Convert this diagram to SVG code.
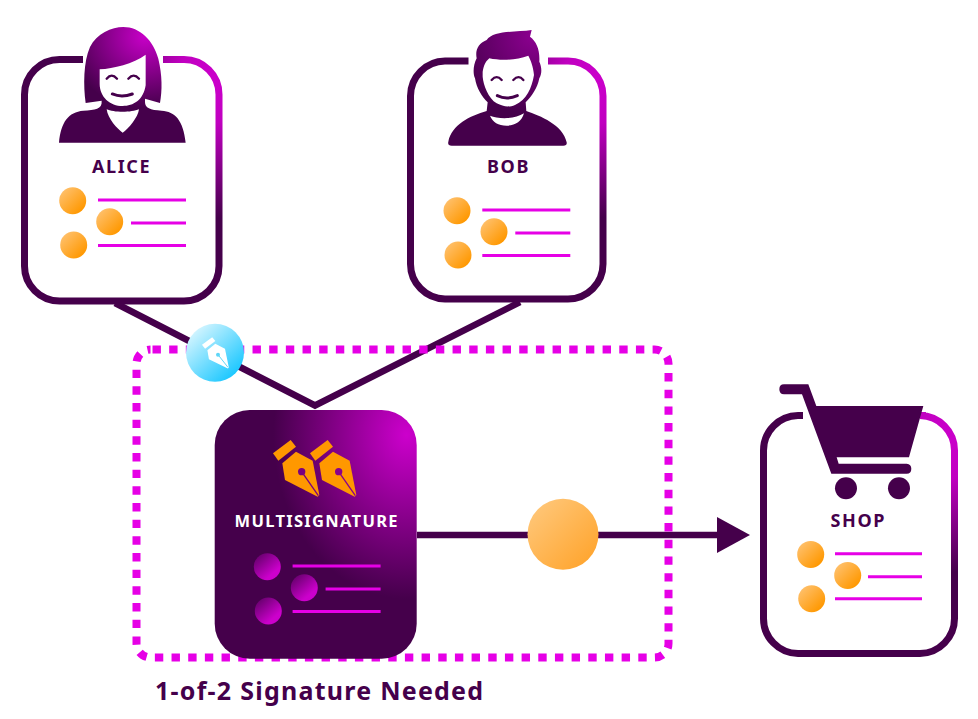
<svg xmlns="http://www.w3.org/2000/svg" xmlns:xlink="http://www.w3.org/1999/xlink" width="978" height="719" viewBox="0 0 978 719">
<style>
.card{fill:none;stroke:url(#cardGrad);stroke-width:7}
.lbl{font-family:"Noto Sans","Open Sans",sans-serif;font-weight:700;font-size:18px;letter-spacing:1.600px;fill:#45004b;text-anchor:middle}
.ln{stroke:#e600e6;stroke-width:3;fill:none}
.ink{fill:#45004b}
.wht{fill:#fff}
.face{fill:none;stroke:#45004b;stroke-linecap:round}
.con{fill:none;stroke:#45004b;stroke-width:6.500}
</style>
<defs>
<radialGradient id="cardGrad" cx="0.95" cy="0.1" r="0.56"><stop offset="0" stop-color="#cc00cc"/><stop offset="0.3" stop-color="#c000c0"/><stop offset="1" stop-color="#45004b"/></radialGradient>
<radialGradient id="figA" cx="0.68" cy="0.08" r="0.62"><stop offset="0" stop-color="#c800c8"/><stop offset="1" stop-color="#45004b"/></radialGradient>
<radialGradient id="figB" cx="0.72" cy="0.05" r="0.68"><stop offset="0" stop-color="#8c0090"/><stop offset="1" stop-color="#45004b"/></radialGradient>
<radialGradient id="msGrad" cx="0.95" cy="0.1" r="0.66"><stop offset="0" stop-color="#cc00cc"/><stop offset="1" stop-color="#45004b"/></radialGradient>
<linearGradient id="org" x1="0.15" y1="0.15" x2="0.85" y2="0.85"><stop offset="0" stop-color="#ffbe66"/><stop offset="1" stop-color="#ff9800"/></linearGradient>
<linearGradient id="org2" x1="0.15" y1="0.15" x2="0.85" y2="0.85"><stop offset="0" stop-color="#ffc473"/><stop offset="1" stop-color="#ffa733"/></linearGradient>
<linearGradient id="pur" x1="0.15" y1="0.1" x2="0.7" y2="0.75"><stop offset="0" stop-color="#6a0070"/><stop offset="1" stop-color="#cc00cc"/></linearGradient>
<linearGradient id="blu" x1="0.15" y1="0.1" x2="0.85" y2="0.85"><stop offset="0" stop-color="#d4f5ff"/><stop offset="1" stop-color="#1ec8ff"/></linearGradient>
<g id="lines">
<path class="ln" d="M98 200H186M131 223H186M98 245.500H186"/>
</g>
<g id="nib">
<path d="M24 70L77 30L93 50L40 92Z"/>
<path d="M52 100L93 65L143 92L163 195L158 200L60 150Z"/>
</g>
</defs>

<g id="connectors">
<path class="con" d="M115 303L315 405.500L520 302"/>
<path class="con" d="M417 535H720"/>
<path d="M717 517L750 535L717 553Z" class="ink"/>
</g>

<rect id="group-box" x="136.500" y="349.500" width="532" height="308" rx="14" fill="none" stroke="#e600e6" stroke-width="8" stroke-dasharray="8.400 8.270" stroke-dashoffset="-2"/>

<g id="alice">
<path class="card" d="M83 59.500H59.500A35 35 0 0 0 24.500 94.500V266A35 35 0 0 0 59.500 301H184A35 35 0 0 0 219 266V94.500A35 35 0 0 0 184 59.500H163"/>
<g transform="translate(55 22) scale(.3333)">
<path fill="url(#figA)" d="M92 243C85 190 85 120 105 75C125 35 170 15 205 15C255 15 295 55 310 110C322 160 322 205 315 243L270 230V240C270 258 285 264 320 266C360 268 385 295 392 362H12C18 300 40 270 85 266C120 264 142 262 140 236Z"/>
<path class="wht" d="M134 142C175 140 235 125 272 98V190C265 235 235 252 203 252C165 252 134 225 134 185Z"/>
<path class="wht" d="M155 262C175 272 230 272 252 262C250 285 220 322 203 332C188 322 158 290 155 262Z"/>
<path class="face" stroke-width="7" d="M155 170Q170 152 186 170M220 170Q236 152 252 170"/>
<path class="face" stroke-width="9" d="M172 216Q200 228 232 216"/>
</g>
<text class="lbl" x="121.500" y="172.700">ALICE</text>
<circle cx="72.700" cy="200.700" r="13.500" fill="url(#org)"/>
<circle cx="109.700" cy="221.700" r="13.500" fill="url(#org)"/>
<circle cx="73.700" cy="245" r="13.500" fill="url(#org)"/>
<use xlink:href="#lines" href="#lines"/>
</g>

<g id="bob">
<path class="card" d="M468.500 61H445A35 35 0 0 0 410.500 96V264A35 35 0 0 0 445 299H568A35 35 0 0 0 603 264V96A35 35 0 0 0 568 61H548"/>
<g transform="translate(440 25) scale(.3333)">
<path fill="url(#figB)" d="M275 15L270 35C290 50 300 75 298 110C305 125 307 145 298 160C292 190 275 215 257 232L259 258C300 272 370 300 380 352Q382 362 370 362H35Q22 362 25 350C35 300 90 272 140 258L143 232C125 215 110 190 105 160C98 145 100 120 110 100C105 75 115 55 140 45C160 15 230 22 275 15Z"/>
<path class="wht" d="M128 140C132 120 135 112 148 100C185 108 230 105 265 92C272 105 280 125 282 150C275 190 260 225 225 240C205 248 190 245 170 235C145 220 130 180 128 155Z"/>
<path class="wht" d="M150 272C175 283 225 283 252 265C245 290 225 302 200 302C175 302 158 292 150 272Z"/>
<path class="face" stroke-width="7" d="M155 165Q170 148 185 165M220 165Q236 148 250 165"/>
<path class="face" stroke-width="9" d="M172 212Q200 226 232 212"/>
</g>
<text class="lbl" x="508.500" y="172.700">BOB</text>
<g transform="translate(384.300 10)">
<circle cx="72.700" cy="200.700" r="13.500" fill="url(#org)"/>
<circle cx="109.700" cy="221.700" r="13.500" fill="url(#org)"/>
<circle cx="73.700" cy="245" r="13.500" fill="url(#org)"/>
<use xlink:href="#lines" href="#lines"/>
</g>
</g>

<g id="multisignature">
<rect x="214.700" y="410" width="202" height="248.700" rx="35" fill="url(#msGrad)"/>
<g transform="translate(265 430) scale(.3333)" fill="#ff9800">
<use xlink:href="#nib" href="#nib"/>
<path d="M110 125L160 197" stroke="#7a0080" stroke-width="4"/>
<circle cx="110" cy="125" r="11" fill="#7a0080"/>
<use xlink:href="#nib" href="#nib" x="111"/>
<path d="M221 125L271 197" stroke="#8a008c" stroke-width="4"/>
<circle cx="221" cy="125" r="11" fill="#8a008c"/>
</g>
<text class="lbl" x="316.700" y="526.700" style="fill:#fff;font-size:16.500px;letter-spacing:1.300px">MULTISIGNATURE</text>
<g transform="translate(194.600 366)">
<circle cx="72.700" cy="200.700" r="13.500" fill="url(#pur)"/>
<circle cx="109.700" cy="221.700" r="13.500" fill="url(#pur)"/>
<circle cx="73.700" cy="245" r="13.500" fill="url(#pur)"/>
<use xlink:href="#lines" href="#lines"/>
</g>
</g>

<g id="signature-token">
<circle cx="215" cy="352.700" r="29" fill="url(#blu)"/>
<g transform="translate(180 320) scale(.3333)">
<g transform="translate(52 35.500) scale(.58 .55)" fill="#fff">
<use xlink:href="#nib" href="#nib"/>
</g>
<circle cx="114" cy="104" r="6" fill="#5fd6f7"/>
<path d="M114 104L144 142" stroke="#5fd6f7" stroke-width="3"/>
</g>
</g>

<circle id="coin" cx="563" cy="534.300" r="35.500" fill="url(#org2)"/>

<g id="shop">
<path class="card" d="M803 415.500H798A35 35 0 0 0 763.500 450.500V618A35 35 0 0 0 798 653.500H920A35 35 0 0 0 954.500 618V450.500A35 35 0 0 0 920 415.500H926"/>
<g transform="translate(740 370) scale(.3333)" class="ink">
<path d="M132 43H205L229 108H550L507 262H290L296 281H500Q514 282 514 296Q514 311 500 311H274L186 73H132Q118 73 118 58Q118 43 132 43Z"/>
<circle cx="318" cy="355" r="33"/>
<circle cx="477" cy="355" r="33"/>
</g>
<text class="lbl" x="858.300" y="526.700">SHOP</text>
<g transform="translate(738 353.700)">
<circle cx="72.700" cy="200.700" r="13.500" fill="url(#org)"/>
<circle cx="109.700" cy="221.700" r="13.500" fill="url(#org)"/>
<circle cx="73.700" cy="245" r="13.500" fill="url(#org)"/>
<path class="ln" d="M97 200H184M130 223H184M97 245H184"/>
</g>
</g>

<text id="caption" x="155" y="700" font-family="Noto Sans, Open Sans, sans-serif" font-weight="700" font-size="25" letter-spacing="1.250" fill="#45004b">1-of-2 Signature Needed</text>
</svg>
